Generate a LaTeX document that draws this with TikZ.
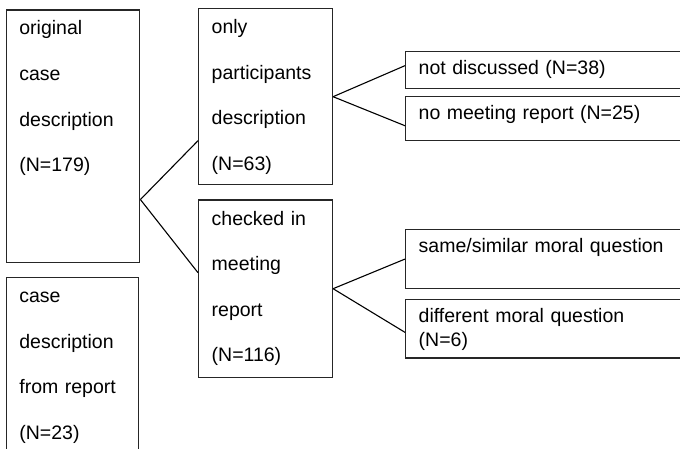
\documentclass[tikz,border=0pt]{standalone}
\usepackage{fontspec}
\setsansfont{Liberation Sans}
\usetikzlibrary{positioning}

\begin{document}
\begin{tikzpicture}[x=0.5pt,y=-0.5pt,
	Edge/.style={-,black,line width=0.55pt},
	TallBox/.style={rectangle,draw=black!85,line width=0.7pt,anchor=north west,inner xsep=6.5pt,inner ysep=0pt,
		align=left,text height=12.5pt,font=\sffamily\fontsize{9.75pt}{22.8pt}\selectfont},
	WideBox/.style={rectangle,draw=black!85,line width=0.7pt,anchor=north west,inner xsep=6.5pt,inner ysep=0pt,
		align=left,text width=137pt,text height=11.5pt,font=\sffamily\fontsize{9.75pt}{11.7pt}\selectfont},
]
	\clip (0,0) rectangle (680,449);

	\node[TallBox,text width=53.65pt,text depth=113.85pt] (Orig) at (5.7,9.3){original\\case\\description\\(N=179)};
	\node[TallBox,text width=53pt,text depth=87.5pt] (Report) at (5.7,277){case\\description\\from report\\(N=23)};
	\node[TallBox,text width=53.85pt,text depth=75.5pt] (Part) at (198,8){only\\participants\\description\\(N=63)};
	\node[TallBox,text width=53.85pt,text depth=76.2pt] (Check) at (198,199.3){checked in\\meeting\\report\\(N=116)};

	\node[WideBox,text depth=6.85pt] (NotDisc) at (405,51){not discussed (N=38)};
	\node[WideBox,text depth=10.65pt] (NoRep) at (405,95.7){no meeting report (N=25)};
	\node[WideBox,text depth=17.85pt] (Same) at (405,229){same/similar moral question};
	\node[WideBox,text depth=17.65pt] (Diff) at (405,299){different moral question\\(N=6)};

	\path[Edge]
	([yshift=-31.6pt]Orig.east) edge ([yshift=-22pt]Part.west)
	([yshift=-31.6pt]Orig.east) edge ([yshift=8pt]Check.west)
	(Part.east) edge ([yshift=2.2pt]NotDisc.west)
	(Part.east) edge ([yshift=-3.6pt]NoRep.west)
	(Check.east) edge (Same.west)
	(Check.east) edge ([yshift=-1.75pt]Diff.west)
	;
\end{tikzpicture}
\end{document}
